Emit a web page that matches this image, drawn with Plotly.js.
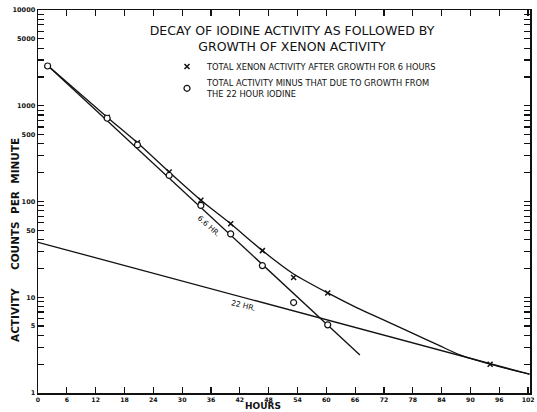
<!DOCTYPE html>
<html>
<head>
<meta charset="utf-8">
<script src="https://cdn.plot.ly/plotly-3.0.1.min.js"></script>
<style>html,body{margin:0;padding:0;background:#fff;}#chart{width:537px;height:412px;}</style>
</head>
<body>
<div id="chart"></div>
<script>
// Measured points (hours, counts per minute)
var markerHours = [2, 14.4, 20.7, 27.3, 33.9, 40.1, 46.7, 53.2, 60.3, 94.1];
var totalXenon = [2600, 760, 410, 203, 103, 58.5, 30.7, 16.1, 11.1, 2.0];
var minusHours = [2, 14.4, 20.7, 27.3, 33.9, 40.1, 46.7, 53.2, 60.3];
var minusIodine22 = [2600, 740, 390, 187, 91, 45.9, 21.4, 8.8, 5.15];

// Drawn smooth curve through total activity
var curveHours = [1.6, 14.4, 20.7, 27.3, 33.9, 40.1, 46.7, 53.2, 60.3, 66.3, 71.9, 77.8, 83.7, 87.8, 94.1, 102.3];
var curveCounts = [2750, 760, 410, 203, 103, 58.5, 30.7, 17.5, 11.1, 7.8, 5.8, 4.25, 3.1, 2.5, 2.0, 1.57];

// Straight decay lines
var line66Hours = [1.6, 67];
var line66Counts = [2750, 2.5];
var line22Hours = [0, 102.3];
var line22Counts = [37.5, 1.57];

// Axis ticks
var xTicks = [0, 6, 12, 18, 24, 30, 36, 42, 48, 54, 60, 66, 72, 78, 84, 90, 96, 102];
var yTickVals = [1,2,3,4,5,6,7,8,9,10,20,30,40,50,60,70,80,90,100,200,300,400,500,600,700,800,900,1000,2000,3000,4000,5000,6000,7000,8000,9000,10000];
var yLabeled = [1, 5, 10, 50, 100, 500, 1000, 5000, 10000];
var yTickText = yTickVals.map(function(v){ return yLabeled.indexOf(v) >= 0 ? String(v) : ''; });

var black = '#111';
var FONT = 'DejaVu Sans, Arial, sans-serif';

var traces = [
  {x: curveHours, y: curveCounts, mode: 'lines', line: {color: black, width: 1.3, shape: 'spline', smoothing: 0.6}, showlegend: false, hoverinfo: 'skip'},
  {x: line66Hours, y: line66Counts, mode: 'lines', line: {color: black, width: 1.3}, showlegend: false, hoverinfo: 'skip'},
  {x: line22Hours, y: line22Counts, mode: 'lines', line: {color: black, width: 1.3}, showlegend: false, hoverinfo: 'skip'},
  {x: markerHours, y: totalXenon, mode: 'markers', name: 'TOTAL XENON ACTIVITY AFTER GROWTH FOR 6 HOURS',
   marker: {symbol: 'x-thin', size: 5, line: {color: black, width: 1.5}, color: black}},
  {x: minusHours, y: minusIodine22, mode: 'markers', name: 'TOTAL ACTIVITY MINUS THAT DUE TO GROWTH FROM<br>THE 22 HOUR IODINE',
   marker: {symbol: 'circle', size: 6, color: '#fff', line: {color: black, width: 1.2}}}
];

var layout = {
  width: 537, height: 412,
  margin: {l: 38, r: 7, t: 10, b: 19, pad: 0},
  paper_bgcolor: '#fff', plot_bgcolor: '#fff',
  font: {family: FONT, color: black},
  title: {text: 'DECAY OF IODINE ACTIVITY AS FOLLOWED BY<br>GROWTH OF XENON ACTIVITY',
          x: 292/537, xanchor: 'center', xref: 'container', y: 1 - 35/412, yanchor: 'top', yref: 'container',
          font: {family: FONT, size: 12.5, color: black}},
  showlegend: true,
  legend: {x: (167-38)/492, y: 1 - (52-10)/383, xanchor: 'left', yanchor: 'top',
           bgcolor: 'rgba(0,0,0,0)', font: {family: FONT, size: 8.3, color: black},
           itemwidth: 30, tracegroupgap: 0},
  xaxis: {range: [0, 102.4], tickvals: xTicks, ticktext: xTicks.map(String),
          ticks: 'inside', ticklen: 6, tickwidth: 1.2, tickcolor: black,
          showline: true, linewidth: 1.5, linecolor: black, mirror: 'ticks',
          showgrid: false, zeroline: false,
          tickfont: {family: FONT, size: 6.2, color: black, weight: 'bold'}},
  yaxis: {type: 'log', range: [0, 4], tickvals: yTickVals, ticktext: yTickText,
          ticks: 'inside', ticklen: 6, tickwidth: 1.2, tickcolor: black,
          showline: true, linewidth: 1.5, linecolor: black, mirror: 'ticks',
          showgrid: false, zeroline: false,
          tickfont: {family: FONT, size: 6.5, color: black, weight: 'bold'}},
  annotations: [
    {text: 'HOURS', xref: 'paper', yref: 'paper', x: (263-38)/492, y: -(406.5-393)/383, yanchor: 'middle',
     showarrow: false, font: {family: FONT, size: 9, color: black, weight: 'bold'}},
    {text: 'ACTIVITY     COUNTS  PER  MINUTE', xref: 'paper', yref: 'paper', x: -(38-15)/492, y: (393-240)/383,
     xanchor: 'center', yanchor: 'middle', textangle: -90, showarrow: false,
     font: {family: FONT, size: 10.5, color: black, weight: 'bold'}},
    {text: '6.6 HR.', x: 35.4, y: Math.log10(55.5), xref: 'x', yref: 'y', textangle: 42, showarrow: false,
     font: {family: FONT, size: 7.5, color: black}},
    {text: '22 HR.', x: 42.7, y: Math.log10(8.3), xref: 'x', yref: 'y', textangle: 14, showarrow: false,
     font: {family: FONT, size: 7.5, color: black}}
  ]
};

Plotly.newPlot('chart', traces, layout, {displayModeBar: false, staticPlot: true});
</script>
</body>
</html>
